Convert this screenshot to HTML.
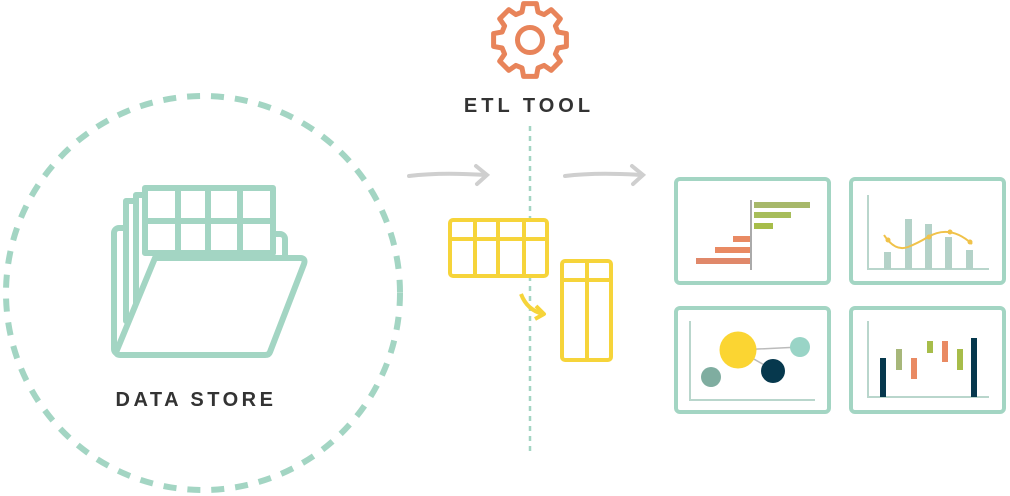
<!DOCTYPE html>
<html><head><meta charset="utf-8"><style>
html,body{margin:0;padding:0;background:#fff;}
svg{display:block;}
text{font-family:"Liberation Sans",sans-serif;font-weight:bold;fill:#333;}
</style></head><body>
<svg width="1010" height="496" viewBox="0 0 1010 496" xmlns="http://www.w3.org/2000/svg">
<!-- data store circle -->
<circle cx="203" cy="293" r="197" fill="none" stroke="#a3d5c3" stroke-width="6" stroke-dasharray="13 11"/>
<!-- folder -->
<g fill="#fff" stroke="#a3d5c3" stroke-width="6" stroke-linejoin="round">
<rect x="114" y="228" width="60" height="126" rx="5"/>
<rect x="126" y="201" width="130" height="120"/>
<rect x="136" y="195" width="130" height="120"/>
<rect x="262" y="234" width="23" height="40" rx="5"/>
<rect x="145" y="188" width="128" height="65"/>
<path d="M178 188V253M208 188V253M240 188V253M145 221H273" fill="none"/>
<path d="M155 258H300Q306 258 304 264L270 352Q269 355 265 355H120Q115 355 117 350Z"/>
</g>
<text x="196" y="406" font-size="20" text-anchor="middle" letter-spacing="3.5">DATA STORE</text>
<!-- gear -->
<g transform="translate(530,40)" fill="none" stroke="#e8845a" stroke-width="5" stroke-linejoin="round">
<polygon points="-8,-27.9 -6.4,-36.4 6.4,-36.4 8,-27.9 14.1,-25.4 21.2,-30.3 30.3,-21.2 25.4,-14.1 27.9,-8 36.4,-6.4 36.4,6.4 27.9,8 25.4,14.1 30.3,21.2 21.2,30.3 14.1,25.4 8,27.9 6.4,36.4 -6.4,36.4 -8,27.9 -14.1,25.4 -21.2,30.3 -30.3,21.2 -25.4,14.1 -27.9,8 -36.4,6.4 -36.4,-6.4 -27.9,-8 -25.4,-14.1 -30.3,-21.2 -21.2,-30.3 -14.1,-25.4"/>
<circle r="12.5"/>
</g>
<text x="529" y="112" font-size="20" text-anchor="middle" letter-spacing="4">ETL TOOL</text>
<line x1="530" y1="126" x2="530" y2="456" stroke="#a3d5c3" stroke-width="2.5" stroke-dasharray="5 5"/>
<!-- gray arrows -->
<g fill="none" stroke="#cfcfcf" stroke-width="4" stroke-linecap="round">
<path d="M409 176Q440 172 486 175"/><path d="M476 166L487 175L477 184"/>
<path d="M565 176Q596 172 642 175"/><path d="M632 166L643 175L633 184"/>
</g>
<!-- yellow tables -->
<g fill="#fff" stroke="#f6d43a" stroke-width="4" stroke-linejoin="round">
<rect x="450" y="220" width="97" height="56" rx="3"/>
<path d="M475 220V276M498 220V276M524 220V276M450 239H547" fill="none"/>
<rect x="562" y="261" width="49" height="99" rx="3"/>
<path d="M587 261V360M562 280H611" fill="none"/>
<path d="M521 294Q527 310 543 314" fill="none"/>
<path d="M536 306L544 314L535 319" fill="none"/>
</g>
<!-- chart panels -->
<g fill="#fff" stroke="#a3d5c3" stroke-width="4">
<rect x="676" y="179" width="153" height="104" rx="4"/>
<rect x="851" y="179" width="153" height="104" rx="4"/>
<rect x="676" y="308" width="153" height="104" rx="4"/>
<rect x="851" y="308" width="153" height="104" rx="4"/>
</g>
<!-- chart1 -->
<rect x="754" y="202" width="56" height="6" fill="#a7b86a"/>
<rect x="754" y="212" width="37" height="6" fill="#a7bd5a"/>
<rect x="754" y="223" width="19" height="6" fill="#a7bd4a"/>
<rect x="733" y="236" width="17" height="6" fill="#e98a63"/>
<rect x="715" y="247" width="35" height="6" fill="#e98a63"/>
<rect x="696" y="258" width="54" height="6" fill="#e0886a"/>
<line x1="751" y1="200" x2="751" y2="270" stroke="#aaa" stroke-width="2"/>
<!-- chart2 -->
<path d="M868 195V269H989" fill="none" stroke="#b9d6cc" stroke-width="2"/>
<g fill="#b4d2c8">
<rect x="884" y="252" width="7" height="17"/>
<rect x="905" y="219" width="7" height="50"/>
<rect x="925" y="224" width="7" height="45"/>
<rect x="945" y="237" width="7" height="32"/>
<rect x="966" y="250" width="7" height="19"/>
</g>
<path d="M884 235Q895 252 908 247Q918 243 928 237Q950 224 972 244" fill="none" stroke="#f0c24a" stroke-width="2"/>
<g fill="#f0c24a"><circle cx="888" cy="240" r="2.5"/><circle cx="929" cy="237" r="2.5"/><circle cx="950" cy="232" r="2.5"/><circle cx="970" cy="242" r="2.5"/></g>
<!-- chart3 -->
<path d="M690 321V400H815" fill="none" stroke="#b9d6cc" stroke-width="2"/>
<path d="M738 350L800 347M738 350L773 370" stroke="#bbb" stroke-width="1.5"/>
<circle cx="738" cy="350" r="18.5" fill="#fbd532"/>
<circle cx="800" cy="347" r="10" fill="#99d4c6"/>
<circle cx="773" cy="371" r="12" fill="#06384d"/>
<circle cx="711" cy="377" r="10" fill="#7fada0"/>
<!-- chart4 -->
<path d="M868 321V397H989" fill="none" stroke="#b9d6cc" stroke-width="2"/>
<rect x="880" y="358" width="6" height="39" fill="#06384d"/>
<rect x="896" y="349" width="6" height="21" fill="#a7b77a"/>
<rect x="911" y="358" width="6" height="21" fill="#e98a63"/>
<rect x="927" y="341" width="6" height="12" fill="#a7bd4a"/>
<rect x="942" y="341" width="6" height="21" fill="#e98a63"/>
<rect x="957" y="349" width="6" height="21" fill="#a7bd4a"/>
<rect x="971" y="338" width="6" height="59" fill="#06384d"/>
</svg>
</body></html>
